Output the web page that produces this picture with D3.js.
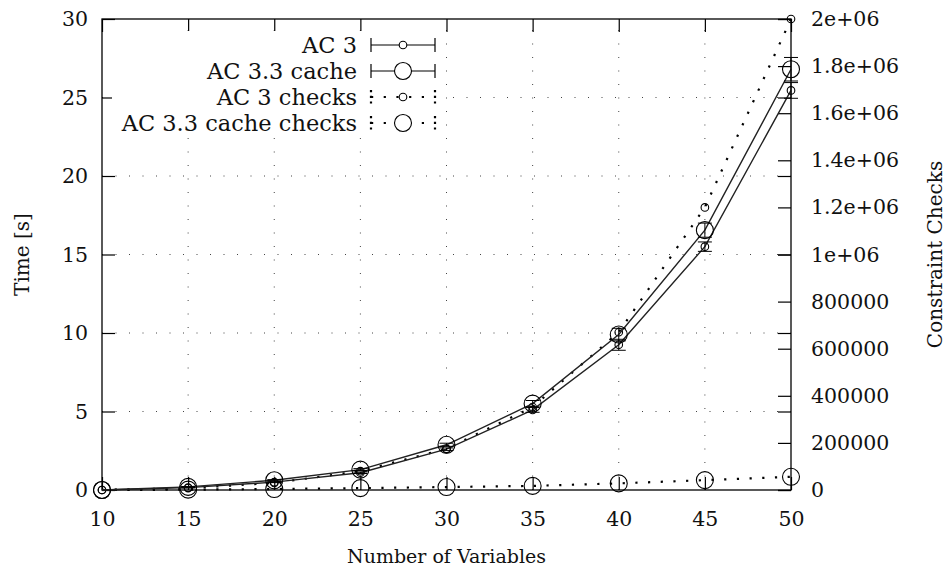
<!DOCTYPE html>
<html>
<head>
<meta charset="utf-8">
<script src="https://cdn.jsdelivr.net/npm/d3@7"></script>
<style>
  html, body { margin: 0; padding: 0; background: #fff; }
  svg { display: block; font-family: "DejaVu Serif", "Liberation Serif", serif; }
</style>
</head>
<body>
<div id="chart"></div>
<script>
(function() {
    'use strict';

    // Data
    var variables = [10, 15, 20, 25, 30, 35, 40, 45, 50];
    var ac3Time = [0, 0.15, 0.5, 1.1, 2.6, 5.1, 9.25, 15.5, 25.45];
    var ac3Err = [0, 0.02, 0.03, 0.05, 0.08, 0.15, 0.35, 0.3, 0.5];
    var ac33Time = [0, 0.2, 0.62, 1.3, 2.88, 5.5, 9.9, 16.55, 26.8];
    var ac33Err = [0, 0.02, 0.04, 0.06, 0.1, 0.2, 0.4, 0.45, 0.75];
    var ac3Checks = [0, 8000, 30000, 80000, 175000, 352000, 670000, 1200000, 2000000];
    var ac33Checks = [0, 1500, 4000, 8000, 12500, 17500, 28000, 42000, 56000];

    var xTicks = [10, 15, 20, 25, 30, 35, 40, 45, 50];
    var yTicks = [0, 5, 10, 15, 20, 25, 30];
    var y2Ticks = [0, 200000, 400000, 600000, 800000, 1000000, 1200000, 1400000, 1600000, 1800000, 2000000];

    var width = 949, height = 573;
    var margin = { top: 19, right: 158, bottom: 83, left: 102 };
    var innerW = width - margin.left - margin.right;
    var innerH = height - margin.top - margin.bottom;

    var x = d3.scaleLinear().domain([10, 50]).range([0, innerW]);
    var y = d3.scaleLinear().domain([0, 30]).range([innerH, 0]);
    var y2 = d3.scaleLinear().domain([0, 2000000]).range([innerH, 0]);

    var svg = d3.select('#chart').append('svg')
        .attr('width', width)
        .attr('height', height);

    var g = svg.append('g')
        .attr('transform', 'translate(' + margin.left + ',' + margin.top + ')');

    // Grid (dotted)
    var grid = g.append('g').attr('stroke', '#444').attr('stroke-width', 1)
        .attr('stroke-dasharray', '1,12.5');
    grid.selectAll('.gx').data(xTicks.slice(1, -1)).join('line')
        .attr('x1', function(d) { return x(d); }).attr('x2', function(d) { return x(d); })
        .attr('y1', innerH).attr('y2', 0);
    grid.selectAll('.gy').data(yTicks.slice(1, -1)).join('line')
        .attr('y1', function(d) { return y(d); }).attr('y2', function(d) { return y(d); })
        .attr('x1', 0).attr('x2', innerW);

    // Axes with inward ticks, mirrored like gnuplot
    var tickLen = 13;
    var fmtY2 = function(d) {
        if (d >= 1000000) {
            var m = d / 1000000;
            return (m === 2 ? '2' : m === 1 ? '1' : m.toFixed(1)) + 'e+06';
        }
        return String(d);
    };

    g.append('g').attr('class', 'ax-bottom')
        .attr('transform', 'translate(0,' + innerH + ')')
        .call(d3.axisBottom(x).tickValues(xTicks).tickSizeInner(-tickLen).tickSizeOuter(0).tickPadding(24));
    g.append('g').attr('class', 'ax-top')
        .call(d3.axisTop(x).tickValues(xTicks).tickSizeInner(-tickLen).tickSizeOuter(0).tickFormat(''));
    g.append('g').attr('class', 'ax-left')
        .call(d3.axisLeft(y).tickValues(yTicks).tickSizeInner(-tickLen).tickSizeOuter(0).tickPadding(14));
    g.append('g').attr('class', 'ax-right-mirror')
        .attr('transform', 'translate(' + innerW + ',0)')
        .call(d3.axisRight(y).tickValues(yTicks).tickSizeInner(-tickLen).tickSizeOuter(0).tickFormat(''));
    g.append('g').attr('class', 'ax-right')
        .attr('transform', 'translate(' + innerW + ',0)')
        .call(d3.axisRight(y2).tickValues(y2Ticks).tickSizeInner(-tickLen).tickSizeOuter(0).tickPadding(20).tickFormat(fmtY2));

    g.selectAll('.domain').remove();
    g.selectAll('.tick line').attr('stroke', '#000').attr('stroke-width', 1.2);
    g.selectAll('.tick text').attr('font-family', '"DejaVu Serif", serif')
        .attr('font-size', 20.5).attr('fill', '#111');
    g.select('.ax-bottom').selectAll('.tick text').attr('dy', '0.6em');

    // Frame
    g.append('rect').attr('width', innerW).attr('height', innerH)
        .attr('fill', 'none').attr('stroke', '#000').attr('stroke-width', 1.3);

    // Series
    var idx = d3.range(variables.length);
    function lineFor(vals, scale) {
        return d3.line()
            .x(function(i) { return x(variables[i]); })
            .y(function(i) { return scale(vals[i]); });
    }

    var series = [
        { vals: ac3Checks, scale: y2, r: 3.8, dotted: true },
        { vals: ac33Checks, scale: y2, r: 8.5, dotted: true },
        { vals: ac3Time, err: ac3Err, scale: y, r: 3.8, dotted: false },
        { vals: ac33Time, err: ac33Err, scale: y, r: 8.5, dotted: false }
    ];

    series.forEach(function(s) {
        var sg = g.append('g');
        var path = sg.append('path').datum(idx)
            .attr('fill', 'none')
            .attr('stroke', '#000')
            .attr('d', lineFor(s.vals, s.scale));
        if (s.dotted) {
            path.attr('stroke-width', 2.2).attr('stroke-dasharray', '2.2,10.5');
        } else {
            path.attr('stroke-width', 1.4).attr('stroke', '#222');
        }
        if (s.err) {
            idx.forEach(function(i) {
                if (!s.err[i]) return;
                var cx = x(variables[i]);
                var lo = s.scale(s.vals[i] - s.err[i]);
                var hi = s.scale(s.vals[i] + s.err[i]);
                sg.append('line').attr('x1', cx).attr('x2', cx).attr('y1', lo).attr('y2', hi)
                    .attr('stroke', '#000').attr('stroke-width', 1);
                [lo, hi].forEach(function(yy) {
                    sg.append('line').attr('x1', cx - 7).attr('x2', cx + 7).attr('y1', yy).attr('y2', yy)
                        .attr('stroke', '#000').attr('stroke-width', 1);
                });
            });
        }
        sg.selectAll('circle').data(idx).join('circle')
            .attr('cx', function(i) { return x(variables[i]); })
            .attr('cy', function(i) { return s.scale(s.vals[i]); })
            .attr('r', s.r)
            .attr('fill', 'none')
            .attr('stroke', '#000')
            .attr('stroke-width', 1.1);
    });

    // Legend (opaque, top left)
    var legendItems = [
        { label: 'AC 3', r: 3.8, dotted: false },
        { label: 'AC 3.3 cache', r: 8.5, dotted: false },
        { label: 'AC 3 checks', r: 3.8, dotted: true },
        { label: 'AC 3.3 cache checks', r: 8.5, dotted: true }
    ];
    var lg = svg.append('g');
    lg.append('rect').attr('x', 112).attr('y', 31).attr('width', 330).attr('height', 104)
        .attr('fill', '#fff');
    var rowY = 45, rowH = 26, sx1 = 371, sx2 = 435;
    legendItems.forEach(function(item, i) {
        var yy = rowY + i * rowH;
        lg.append('text').attr('x', 357).attr('y', yy).attr('dy', '0.35em')
            .attr('text-anchor', 'end').attr('font-size', 22.5).attr('fill', '#111')
            .text(item.label);
        var seg = lg.append('g').attr('stroke', '#000');
        if (item.dotted) {
            seg.append('line').attr('x1', sx1).attr('x2', sx2).attr('y1', yy).attr('y2', yy)
                .attr('stroke-width', 2.2).attr('stroke-dasharray', '2.2,10.5');
            [sx1, sx2].forEach(function(ex) {
                seg.append('line').attr('x1', ex).attr('x2', ex).attr('y1', yy - 7).attr('y2', yy + 7)
                    .attr('stroke-width', 2.2).attr('stroke-dasharray', '2.2,3.5');
            });
        } else {
            seg.append('line').attr('x1', sx1).attr('x2', sx2).attr('y1', yy).attr('y2', yy)
                .attr('stroke-width', 1.2);
            [sx1, sx2].forEach(function(ex) {
                seg.append('line').attr('x1', ex).attr('x2', ex).attr('y1', yy - 7).attr('y2', yy + 7)
                    .attr('stroke-width', 1.2);
            });
        }
        seg.append('circle').attr('cx', (sx1 + sx2) / 2).attr('cy', yy).attr('r', item.r)
            .attr('fill', '#fff').attr('stroke-width', 1.1);
    });

    // Axis titles
    svg.append('text').attr('x', margin.left + innerW / 2).attr('y', 563)
        .attr('text-anchor', 'middle').attr('font-size', 19).attr('fill', '#111')
        .text('Number of Variables');
    svg.append('text')
        .attr('transform', 'translate(29,' + (margin.top + innerH / 2) + ') rotate(-90)')
        .attr('text-anchor', 'middle').attr('font-size', 20).attr('fill', '#111')
        .text('Time [s]');
    svg.append('text')
        .attr('transform', 'translate(942,' + (margin.top + innerH / 2) + ') rotate(-90)')
        .attr('text-anchor', 'middle').attr('font-size', 20).attr('fill', '#111')
        .text('Constraint Checks');
})();
</script>
</body>
</html>
